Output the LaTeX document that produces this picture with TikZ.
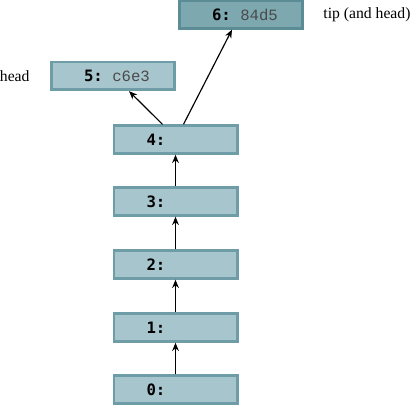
\documentclass[tikz,border=0pt]{standalone}
\usepackage{fontspec}
\setmainfont{Liberation Serif}
\setmonofont{Liberation Mono}
\newfontfamily\numfont{DejaVu Sans Mono}
\usetikzlibrary{positioning,arrows.meta}

\definecolor{commitfill}{HTML}{A7C5CC}
\definecolor{commitdraw}{HTML}{6E9DA8}
\definecolor{tipfill}{HTML}{7EA8B0}
\definecolor{tipdraw}{HTML}{5C8D97}
\definecolor{hashgray}{HTML}{4A4A4A}

\newcommand{\cnum}[1]{{\numfont\bfseries #1:}}
\newcommand{\chash}[1]{\hspace*{0.6em}\textcolor{hashgray}{#1}}

\begin{document}
\begin{tikzpicture}[x=0.6pt, y=-0.6pt, >={Stealth[length=5pt,width=4pt]}, line width=0.7pt,
    commit node/.style={rectangle, draw=commitdraw, fill=commitfill, line width=1.6pt,
        minimum height=16.6pt, text width=34.8pt, inner xsep=19.6pt, inner ysep=0pt,
        align=left, font=\fontsize{9.4pt}{10pt}\selectfont\ttfamily},
    tip node/.style={commit node, draw=tipdraw, fill=tipfill},
    note/.style={font=\fontsize{9.4pt}{11pt}\selectfont}]

    \useasboundingbox (0,0) rectangle (411,405);

    \node[commit node] at (175.5, 389.5) (c0) {\cnum{0}};
    \node[commit node] at (175.5, 327.5) (c1) {\cnum{1}};
    \node[commit node] at (175.5, 264.5) (c2) {\cnum{2}};
    \node[commit node] at (175.5, 201.5) (c3) {\cnum{3}};
    \node[commit node] at (175.5, 139.5) (c4) {\cnum{4}};
    \node[commit node] at (113, 76) (c5) {\cnum{5}\chash{c6e3}};
    \node[tip node] at (241, 14.5) (c6) {\cnum{6}\chash{84d5}};

    \node[note, left=8.6pt of c5] (head) {head};
    \node[note, right=8pt of c6] (tip) {tip (and head)};

    \draw[->] (c0) -- (c1);
    \draw[->] (c1) -- (c2);
    \draw[->] (c2) -- (c3);
    \draw[->] (c3) -- (c4);
    \draw[->] ([xshift=-7.8pt]c4.north) -- ([xshift=9.6pt]c5.south);
    \draw[->] ([xshift=4.8pt]c4.north) -- ([xshift=-5.4pt]c6.south);
\end{tikzpicture}
\end{document}
